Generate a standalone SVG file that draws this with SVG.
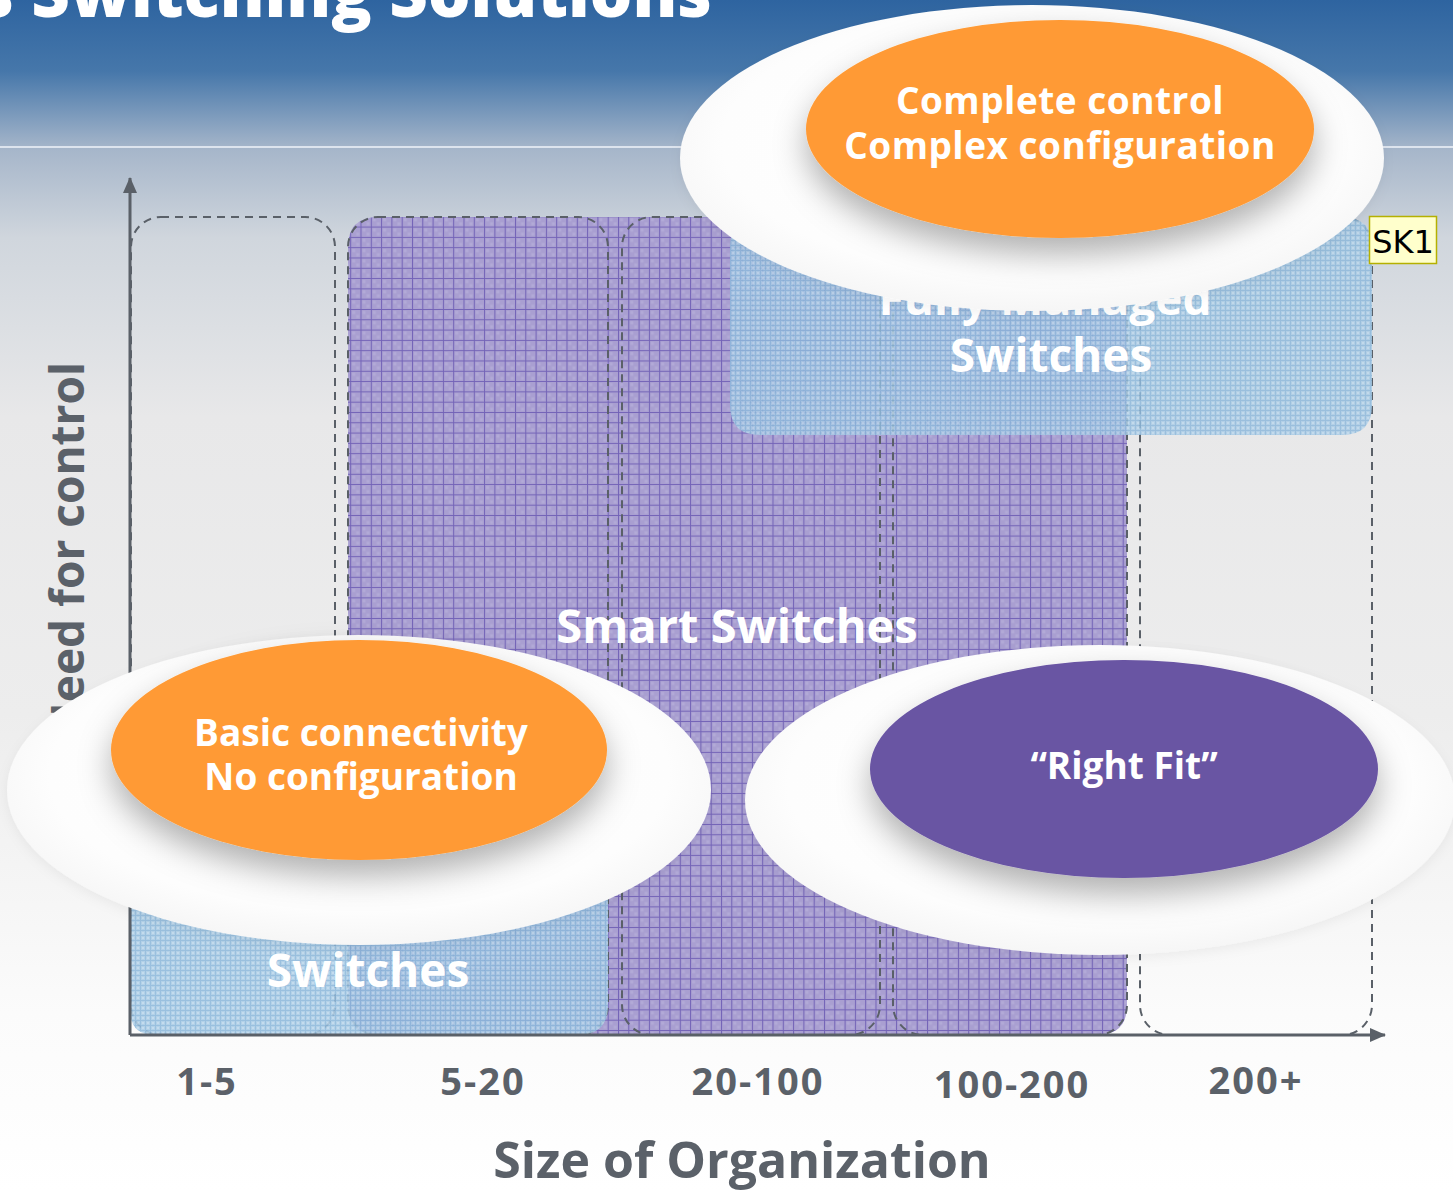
<svg xmlns="http://www.w3.org/2000/svg" width="1453" height="1191" viewBox="0 0 1453 1191">
<defs>
<linearGradient id="bg" x1="0" y1="0" x2="0" y2="1191" gradientUnits="userSpaceOnUse">
<stop offset="0" stop-color="#2e64a0"/>
<stop offset="0.06" stop-color="#4677aa"/>
<stop offset="0.125" stop-color="#a6b6ca"/>
<stop offset="0.2" stop-color="#d0d6dd"/>
<stop offset="0.35" stop-color="#e8e8e9"/>
<stop offset="0.6" stop-color="#ededed"/>
<stop offset="0.85" stop-color="#fbfbfb"/>
<stop offset="1" stop-color="#ffffff"/>
</linearGradient>
<pattern id="pgrid" width="10.3" height="10.3" patternUnits="userSpaceOnUse">
<rect width="10.3" height="10.3" fill="#a99fd1"/>
<rect x="2" y="2" width="3" height="3" fill="#b2aad7"/>
<rect x="6" y="6" width="3" height="3" fill="#b2aad7"/>
<path d="M0 0.5H10.3M0.5 0V10.3" stroke="#7363b7" stroke-width="1"/>
</pattern>
<pattern id="bgrid" width="5" height="5" patternUnits="userSpaceOnUse">
<rect width="5" height="5" fill="#a8cbe5"/>
<rect x="2" y="2" width="2" height="2" fill="#bcd7ec"/>
<path d="M0 0.5H5M0.5 0V5" stroke="#8db8db" stroke-width="1"/>
</pattern>
<radialGradient id="wg" cx="0.5" cy="0.45" r="0.55">
<stop offset="0" stop-color="#ffffff"/>
<stop offset="0.8" stop-color="#fdfdfd"/>
<stop offset="1" stop-color="#f6f6f6"/>
</radialGradient>
<filter id="sh" x="-20%" y="-20%" width="140%" height="160%">
<feDropShadow dx="0" dy="16" stdDeviation="16" flood-color="#000" flood-opacity="0.3"/>
</filter>
<filter id="wsh" x="-10%" y="-10%" width="120%" height="130%">
<feDropShadow dx="0" dy="4" stdDeviation="6" flood-color="#000" flood-opacity="0.05"/>
</filter>
<marker id="arr" viewBox="0 0 16 14" refX="15" refY="7" markerWidth="16" markerHeight="14" markerUnits="userSpaceOnUse" orient="auto">
<path d="M0 0L16 7L0 14Z" fill="#5a6068"/>
</marker>
<style>
.col{fill:none;stroke:#5a6068;stroke-width:2;stroke-dasharray:8 6}
.big{font-family:"Open Sans","Liberation Sans",sans-serif;font-weight:700;fill:#fff;text-anchor:middle}
.ax{font-family:"Open Sans","Liberation Sans",sans-serif;font-weight:700;fill:#5b6169;text-anchor:middle}
.num{font-family:"Open Sans","Liberation Sans",sans-serif;font-weight:700;fill:#5b6169;text-anchor:middle;font-size:38px;letter-spacing:2px}
.bub{font-family:"Open Sans","Liberation Sans",sans-serif;font-weight:700;fill:#fff;text-anchor:middle;font-size:37px}
</style>
</defs>
<rect width="1453" height="1191" fill="url(#bg)"/>
<g id="title">
<text x="712" y="17" font-family="'Open Sans','Liberation Sans',sans-serif" font-weight="800" font-size="67" fill="#fff" text-anchor="end">Business Switching Solutions</text>
<line x1="0" y1="147" x2="1453" y2="147" stroke="#dde4ee" stroke-width="2"/>
</g>
<g id="smart">
<path d="M378 217H1097Q1127 217 1127 247V1005Q1127 1035 1097 1035H378Q348 1035 348 1005V247Q348 217 378 217Z" fill="url(#pgrid)"/>
</g>
<g id="columns">
<rect class="col" x="131" y="217" width="204" height="818" rx="30"/>
<rect class="col" x="348" y="217" width="260" height="818" rx="30"/>
<rect class="col" x="622" y="217" width="258" height="818" rx="30"/>
<rect class="col" x="893" y="217" width="234" height="818" rx="30"/>
<rect class="col" x="1140" y="217" width="232" height="818" rx="30"/>
</g>
<g id="fully-managed">
<path d="M760 217H1342Q1372 217 1372 247V405Q1372 435 1342 435H760Q730 435 730 405V247Q730 217 760 217Z" fill="url(#bgrid)" opacity="0.85"/>
<text class="big" font-size="46"><tspan x="1045" y="315">Fully Managed</tspan><tspan x="1051" y="372">Switches</tspan></text>
</g>
<g id="unmanaged">
<path d="M130 850H608V1005Q608 1035 578 1035H155Q130 1035 130 1010Z" fill="url(#bgrid)" opacity="0.88"/>
<text class="big" x="368" y="987" font-size="46">Switches</text>
</g>
<text class="big" x="737" y="643" font-size="47">Smart Switches</text>
<g id="axes">
<line x1="130" y1="1035" x2="130" y2="178" stroke="#5a6068" stroke-width="3" marker-end="url(#arr)"/>
<line x1="130" y1="1035" x2="1385" y2="1035" stroke="#5a6068" stroke-width="3" marker-end="url(#arr)"/>
</g>
<text class="ax" x="84" y="362" font-size="46" transform="rotate(-90 84 362)" style="text-anchor:end">Need for control</text>
<g id="bubble-top">
<ellipse cx="1032" cy="158" rx="352" ry="153" fill="url(#wg)" filter="url(#wsh)"/>
<ellipse cx="1060" cy="129" rx="254" ry="109" fill="#ff9a34" filter="url(#sh)"/>
<text class="bub" letter-spacing="0.5"><tspan x="1060" y="114">Complete control</tspan><tspan x="1060" y="159">Complex configuration</tspan></text>
</g>
<g id="bubble-left">
<ellipse cx="359" cy="790" rx="352" ry="155" fill="url(#wg)" filter="url(#wsh)"/>
<ellipse cx="359" cy="750" rx="248" ry="110" fill="#ff9a34" filter="url(#sh)"/>
<text class="bub"><tspan x="361" y="746">Basic connectivity</tspan><tspan x="361" y="790">No configuration</tspan></text>
</g>
<g id="bubble-right">
<ellipse cx="1100" cy="800" rx="355" ry="155" fill="url(#wg)" filter="url(#wsh)"/>
<ellipse cx="1124" cy="769" rx="254" ry="109" fill="#6954a3" filter="url(#sh)"/>
<text class="bub" x="1124" y="779" font-size="41">“Right Fit”</text>
</g>
<g id="labels">
<text class="num" x="207" y="1095">1-5</text>
<text class="num" x="483" y="1095">5-20</text>
<text class="num" x="758" y="1095">20-100</text>
<text class="num" x="1012" y="1098">100-200</text>
<text class="num" x="1256" y="1094">200+</text>
<text class="ax" x="742" y="1178" font-size="50">Size of Organization</text>
</g>
<g id="sk1">
<rect x="1369.5" y="216.5" width="67" height="47" fill="#ffffcc" stroke="#b5b000" stroke-width="1.5"/>
<text x="1403" y="253" font-family="'DejaVu Sans',sans-serif" font-size="32" fill="#000" text-anchor="middle">SK1</text>
</g>
</svg>
